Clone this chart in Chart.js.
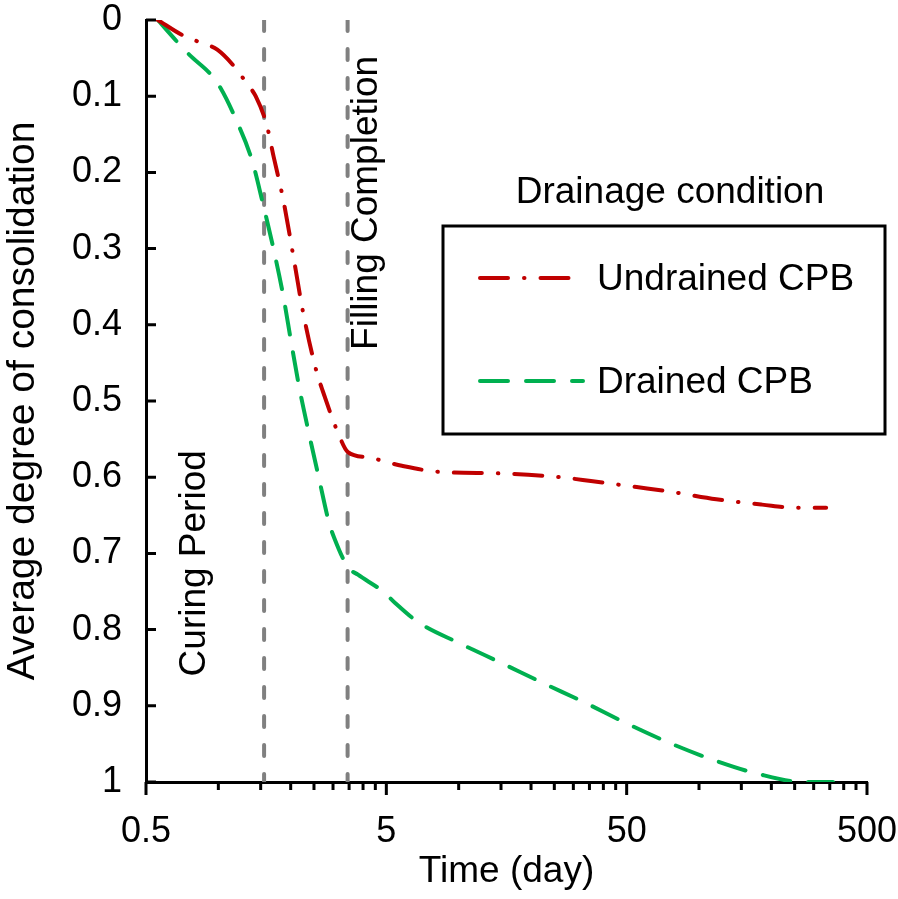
<!DOCTYPE html>
<html>
<head>
<meta charset="utf-8">
<script src="https://cdn.jsdelivr.net/npm/chart.js@4.4.0/dist/chart.umd.min.js"></script>
<style>
    html, body { margin: 0; padding: 0; background: #fff; }
</style>
</head>
<body>
<canvas id="consolidationChart" width="898" height="899"></canvas>
<script>
// values
const undrainedTime = [0.56, 0.71, 0.85, 0.99, 1.2, 1.31, 1.43, 1.59, 1.7, 1.86, 2.08, 2.25, 2.57, 2.7, 3.15, 3.46, 4.2, 5.8, 8.3, 14.9, 26.4, 35.5, 55, 76, 118, 183, 251, 338];
const undrainedDoc = [0, 0.02, 0.03, 0.039, 0.066, 0.083, 0.1, 0.138, 0.18, 0.235, 0.321, 0.383, 0.463, 0.484, 0.542, 0.567, 0.574, 0.585, 0.593, 0.595, 0.6, 0.605, 0.613, 0.619, 0.629, 0.636, 0.64, 0.64];

const drainedTime = [0.56, 0.68, 0.76, 0.94, 1.02, 1.17, 1.38, 1.53, 1.69, 1.86, 2.01, 2.17, 2.38, 2.62, 2.89, 3.03, 3.46, 3.81, 4.89, 5.44, 6.77, 10.1, 15.1, 22.4, 33.6, 50.7, 75.8, 114.5, 174.6, 271, 361];
const drainedDoc = [0, 0.03, 0.046, 0.073, 0.089, 0.127, 0.184, 0.24, 0.298, 0.361, 0.423, 0.482, 0.542, 0.601, 0.66, 0.679, 0.718, 0.728, 0.751, 0.765, 0.79, 0.818, 0.844, 0.87, 0.896, 0.924, 0.949, 0.971, 0.989, 1.0, 1.0];

const curingEnd = 1.55;
const fillingEnd = 3.45;

const xLabelTicks = [0.5, 5, 50, 500];
const xMinorTicks = [0.5, 1, 1.5, 2, 2.5, 3, 3.5, 4, 4.5, 5, 10, 15, 20, 25, 30, 35, 40, 45, 50, 100, 150, 200, 250, 300, 350, 400, 450, 500];
const yTicks = [0, 0.1, 0.2, 0.3, 0.4, 0.5, 0.6, 0.7, 0.8, 0.9, 1];

const FONT = "'Liberation Sans', Arial, sans-serif";
Chart.defaults.font.family = FONT;
Chart.defaults.color = '#000';

const toPoints = (xs, ys) => xs.map((x, i) => ({ x: x, y: ys[i] }));

// excel style ticks: x outside, y inside
const axisTicks = {
    id: 'axisTicks',
    afterDraw(chart) {
        const { ctx, chartArea, scales: { x, y } } = chart;
        ctx.save();
        ctx.strokeStyle = '#000';
        ctx.lineWidth = 3;
        ctx.beginPath();
        xMinorTicks.forEach(v => {
            const px = x.getPixelForValue(v);
            const len = xLabelTicks.includes(v) ? 13 : 8;
            ctx.moveTo(px, chartArea.bottom);
            ctx.lineTo(px, chartArea.bottom + len);
        });
        yTicks.forEach(v => {
            const py = y.getPixelForValue(v);
            ctx.moveTo(chartArea.left, py);
            ctx.lineTo(chartArea.left + 10, py);
        });
        ctx.stroke();
        ctx.restore();
    }
};

const sideNotes = {
    id: 'sideNotes',
    afterDatasetsDraw(chart) {
        const { ctx, scales: { x, y } } = chart;
        const notes = [
            { text: 'Filling Completion', px: x.getPixelForValue(fillingEnd) + 29, py: y.getPixelForValue(0.24) },
            { text: 'Curing Period', px: x.getPixelForValue(curingEnd) - 59, py: y.getPixelForValue(0.713) }
        ];
        ctx.save();
        ctx.fillStyle = '#000';
        ctx.font = `37px ${FONT}`;
        ctx.textAlign = 'center';
        ctx.textBaseline = 'alphabetic';
        notes.forEach(n => {
            ctx.save();
            ctx.translate(n.px, n.py);
            ctx.rotate(-Math.PI / 2);
            ctx.fillText(n.text, 0, 0);
            ctx.restore();
        });
        ctx.restore();
    }
};

const drainageLegend = {
    id: 'drainageLegend',
    afterDraw(chart) {
        const ctx = chart.ctx;
        ctx.save();
        ctx.fillStyle = '#000';
        ctx.font = `37px ${FONT}`;
        ctx.textAlign = 'center';
        ctx.textBaseline = 'alphabetic';
        ctx.fillText('Drainage condition', 670, 203);

        ctx.strokeStyle = '#000';
        ctx.lineWidth = 3;
        ctx.strokeRect(443, 226, 442, 208);

        const rows = [
            { ds: chart.data.datasets[0], y: 278, end: 572 },
            { ds: chart.data.datasets[1], y: 381, end: 583 }
        ];
        ctx.textAlign = 'left';
        rows.forEach(r => {
            ctx.save();
            ctx.strokeStyle = r.ds.borderColor;
            ctx.lineWidth = r.ds.borderWidth;
            ctx.lineCap = 'round';
            ctx.setLineDash(r.ds.borderDash);
            ctx.beginPath();
            ctx.moveTo(480, r.y);
            ctx.lineTo(r.end, r.y);
            ctx.stroke();
            ctx.restore();
            ctx.fillText(r.ds.label, 597, r.y + 12);
        });
        ctx.restore();
    }
};

const ctx = document.getElementById('consolidationChart');

new Chart(ctx, {
    type: 'line',
    data: {
        datasets: [
            {
                label: 'Undrained CPB',
                data: toPoints(undrainedTime, undrainedDoc),
                borderColor: '#C00000',
                borderWidth: 4,
                borderDash: [28, 16, 0.5, 16],
                borderCapStyle: 'round',
                cubicInterpolationMode: 'monotone',
                pointRadius: 0,
                fill: false
            },
            {
                label: 'Drained CPB',
                data: toPoints(drainedTime, drainedDoc),
                borderColor: '#00B050',
                borderWidth: 4,
                borderDash: [28, 18],
                borderCapStyle: 'round',
                cubicInterpolationMode: 'monotone',
                pointRadius: 0,
                fill: false
            },
            {
                label: 'curing',
                data: [{ x: curingEnd, y: 0 }, { x: curingEnd, y: 1 }],
                borderColor: '#808080',
                borderWidth: 4,
                borderDash: [11, 18],
                borderCapStyle: 'round',
                tension: 0,
                pointRadius: 0
            },
            {
                label: 'filling',
                data: [{ x: fillingEnd, y: 0 }, { x: fillingEnd, y: 1 }],
                borderColor: '#808080',
                borderWidth: 4,
                borderDash: [11, 18],
                borderCapStyle: 'round',
                tension: 0,
                pointRadius: 0
            }
        ]
    },
    options: {
        responsive: false,
        animation: false,
        layout: { padding: { top: 20, right: 31, left: 0, bottom: 0 } },
        plugins: {
            legend: { display: false },
            tooltip: { enabled: false }
        },
        scales: {
            x: {
                type: 'logarithmic',
                min: 0.5,
                max: 500,
                afterBuildTicks: s => { s.ticks = xLabelTicks.map(v => ({ value: v })); },
                afterFit: s => { s.height = 117; s.paddingLeft = 0; s.paddingRight = 0; },
                grid: { drawOnChartArea: false, drawTicks: false },
                border: { display: true, color: '#000', width: 3 },
                ticks: {
                    autoSkip: false,
                    maxRotation: 0,
                    padding: 28,
                    font: { size: 36 },
                    callback: v => String(v)
                },
                title: {
                    display: true,
                    text: 'Time (day)',
                    font: { size: 37 },
                    padding: { top: 0, bottom: 5 }
                }
            },
            y: {
                type: 'linear',
                reverse: true,
                min: 0,
                max: 1,
                afterBuildTicks: s => { s.ticks = yTicks.map(v => ({ value: v })); },
                afterFit: s => { s.width = 146; s.paddingTop = 0; s.paddingBottom = 0; },
                grid: { drawOnChartArea: false, drawTicks: false },
                border: { display: true, color: '#000', width: 3 },
                ticks: {
                    padding: 24,
                    font: { size: 36 },
                    callback: v => String(v)
                },
                title: {
                    display: true,
                    text: 'Average degree of consolidation',
                    font: { size: 39 },
                    padding: { top: 0, bottom: 0 }
                }
            }
        }
    },
    plugins: [axisTicks, sideNotes, drainageLegend]
});
</script>
</body>
</html>
